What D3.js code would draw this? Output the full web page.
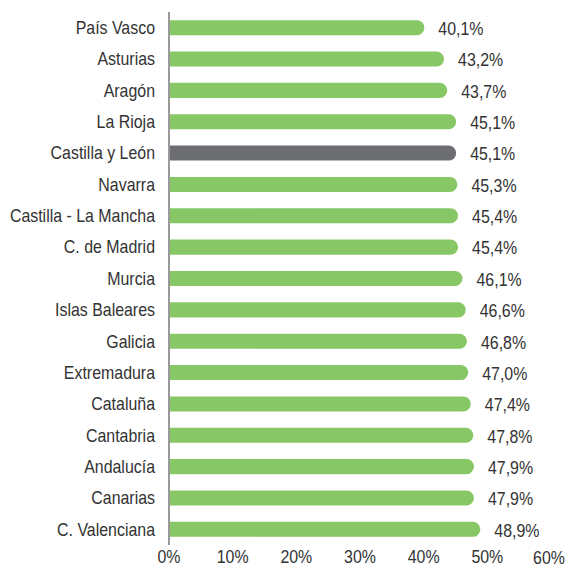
<!DOCTYPE html>
<html><head><meta charset="utf-8">
<script src="https://cdn.jsdelivr.net/npm/d3@7"></script>
<style>html,body{margin:0;padding:0;background:#fff;}svg{display:block;}</style>
</head><body>
<svg id="chart" width="569" height="568"></svg>
<script>
const categories = ["País Vasco","Asturias","Aragón","La Rioja","Castilla y León","Navarra","Castilla - La Mancha","C. de Madrid","Murcia","Islas Baleares","Galicia","Extremadura","Cataluña","Cantabria","Andalucía","Canarias","C. Valenciana"];
const values = [40.1,43.2,43.7,45.1,45.1,45.3,45.4,45.4,46.1,46.6,46.8,47.0,47.4,47.8,47.9,47.9,48.9];
const highlight = ["Castilla y León"];
const tickValues = [0,10,20,30,40,50,60];
const tickLabels = ["0%","10%","20%","30%","40%","50%","60%"];

const svg = d3.select("#chart");
const font = "'Liberation Sans', Arial, Helvetica, sans-serif";
const sx = 0.885, fs = 18;
const x = d3.scaleLinear().domain([0,60]).range([169,551]);
const y = d3.scaleBand().domain(categories).range([12,545]).paddingInner(0.52).paddingOuter(0.26);
const data = categories.map((c,i)=>({c, v: values[i]}));
const fmt = v => v.toFixed(1).replace(".", ",") + "%";
const txt = "#333";

// bars
const bh = y.bandwidth(), r = bh/2;
svg.append("g").selectAll("path").data(data).join("path")
  .attr("d", d => {
    const x0 = x(0)+1, x1 = x(d.v), y0 = y(d.c);
    return `M${x0},${y0}H${x1-r}A${r},${r} 0 0 1 ${x1-r},${y0+bh}H${x0}Z`;
  })
  .attr("fill", d => highlight.includes(d.c) ? "#6d6e72" : "#88c766");

// axis line
svg.append("line").attr("x1", x(0)).attr("x2", x(0)).attr("y1", 12).attr("y2", 545)
  .attr("stroke", "#9a9a9a").attr("stroke-width", 2);

// category labels
svg.append("g").selectAll("text").data(data).join("text")
  .attr("transform", d => `translate(155,${y(d.c)+bh/2}) scale(${sx},1)`)
  .attr("text-anchor","end").attr("dy","0.35em")
  .attr("font-family", font).attr("font-size", fs).attr("fill",txt)
  .text(d => d.c);

// value labels
svg.append("g").selectAll("text").data(data).join("text")
  .attr("transform", d => `translate(${x(d.v)+14},${y(d.c)+bh/2+1}) scale(${sx},1)`)
  .attr("dy","0.35em")
  .attr("font-family", font).attr("font-size", fs).attr("fill",txt)
  .text(d => fmt(d.v));

// x tick labels
svg.append("g").selectAll("text").data(tickValues).join("text")
  .attr("transform", d => `translate(${x(d) - (d===60?2:0)},${557 + (d===60?1:0)}) scale(${sx},1)`)
  .attr("text-anchor","middle").attr("dy","0.35em")
  .attr("font-family", font).attr("font-size", fs).attr("fill",txt)
  .text((d,i) => tickLabels[i]);
</script>
</body></html>
